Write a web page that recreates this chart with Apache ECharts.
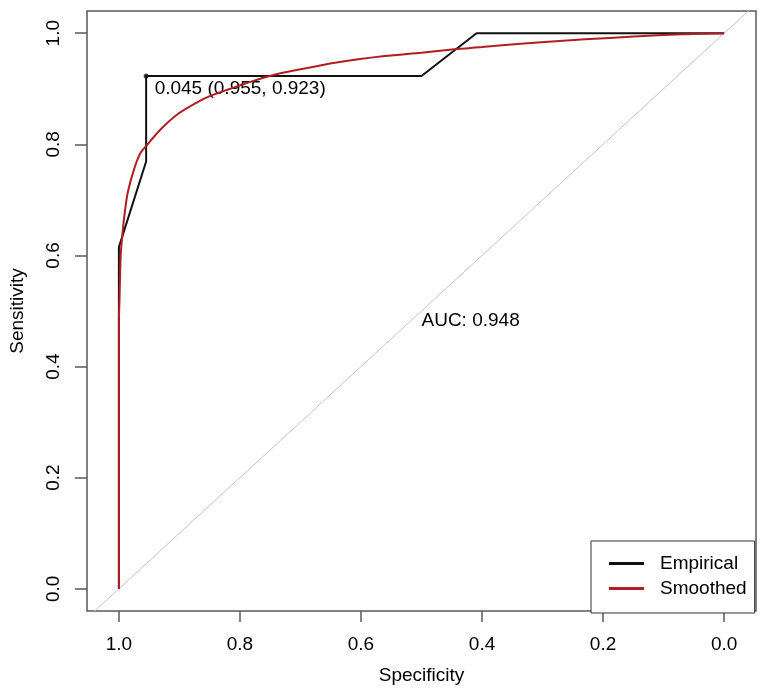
<!DOCTYPE html>
<html>
<head>
<meta charset="utf-8">
<script src="https://cdn.jsdelivr.net/npm/echarts@6/dist/echarts.min.js"></script>
<style>
  html, body { margin: 0; padding: 0; background: #fff; }
  #main { width: 765px; height: 698px; }
</style>
</head>
<body>
<div id="main"></div>
<script>
var chartDom = document.getElementById('main');
var myChart = echarts.init(chartDom);
var option;

// Tick positions shared by both axes
const axisTicks = [0, 0.2, 0.4, 0.6, 0.8, 1.0];

// Empirical ROC curve (specificity, sensitivity)
const empiricalSpec = [1.0, 1.0, 0.955, 0.955, 0.5, 0.409, 0.0];
const empiricalSens = [0.0, 0.615, 0.769, 0.923, 0.923, 1.0, 1.0];

// Smoothed ROC curve
const smoothSpec = [1.0, 1.0, 0.999, 0.997, 0.994, 0.990, 0.985, 0.975, 0.965, 0.955,
  0.930, 0.902, 0.870, 0.847, 0.808, 0.792, 0.748, 0.700, 0.643, 0.561,
  0.500, 0.446, 0.400, 0.314, 0.230, 0.149, 0.070, 0.0];
const smoothSens = [0.0, 0.480, 0.520, 0.600, 0.640, 0.680, 0.715, 0.755, 0.783, 0.797,
  0.828, 0.855, 0.876, 0.888, 0.903, 0.909, 0.924, 0.935, 0.947, 0.959,
  0.965, 0.971, 0.975, 0.983, 0.989, 0.994, 0.998, 1.0];

// Chance diagonal
const chanceSpec = [1.2, -0.2];
const chanceSens = [-0.2, 1.2];

// Best threshold and AUC
const bestThreshold = 0.045;
const bestSpec = 0.955;
const bestSens = 0.923;
const aucValue = 0.948;
const aucPos = [0.5, 0.5];

const font = "'Liberation Sans', Arial, sans-serif";
const fontSize = 19;
const red = '#b21d24';

function pairs(xs, ys) {
  return xs.map(function (x, i) { return [x, ys[i]]; });
}

option = {
  animation: false,
  backgroundColor: '#fff',
  textStyle: { fontFamily: font, color: '#000' },
  grid: {
    left: 85, right: 9, top: 11, bottom: 87,
    show: true,
    borderColor: '#5a5a5a',
    borderWidth: 1.5,
    backgroundColor: 'transparent'
  },
  legend: {
    left: 591,
    top: 541,
    orient: 'vertical',
    data: ['Empirical', 'Smoothed'],
    icon: 'rect',
    itemWidth: 35,
    itemHeight: 3,
    itemGap: 6,
    padding: [13, 8, 15, 18],
    borderColor: '#333',
    borderWidth: 1,
    backgroundColor: '#fff',
    textStyle: { fontFamily: font, fontSize: fontSize, color: '#000', padding: [0, 0, 0, 11], lineHeight: 18 }
  },
  xAxis: {
    type: 'value',
    inverse: true,
    min: -0.0527,
    max: 1.0527,
    name: 'Specificity',
    nameLocation: 'middle',
    nameGap: 55,
    nameTextStyle: { fontFamily: font, fontSize: fontSize, color: '#000' },
    axisLine: { show: false, onZero: false },
    splitLine: { show: false },
    axisTick: { show: true, inside: false, length: 11, customValues: axisTicks, lineStyle: { color: '#5a5a5a', width: 1.5 } },
    axisLabel: {
      customValues: axisTicks,
      margin: 24,
      fontFamily: font, fontSize: fontSize, color: '#000',
      formatter: function (v) { return v.toFixed(1); }
    }
  },
  yAxis: {
    type: 'value',
    min: -0.04,
    max: 1.04,
    name: 'Sensitivity',
    nameLocation: 'middle',
    nameGap: 60,
    nameTextStyle: { fontFamily: font, fontSize: fontSize, color: '#000' },
    axisLine: { show: false, onZero: false },
    splitLine: { show: false },
    axisTick: { show: true, inside: false, length: 12, customValues: axisTicks, lineStyle: { color: '#5a5a5a', width: 1.5 } },
    axisLabel: {
      customValues: axisTicks,
      rotate: 90,
      margin: 24,
      fontFamily: font, fontSize: fontSize, color: '#000',
      formatter: function (v) { return v.toFixed(1); }
    }
  },
  series: [
    {
      name: 'chance',
      type: 'line',
      data: pairs(chanceSpec, chanceSens),
      showSymbol: false,
      symbol: 'none',
      clip: true,
      silent: true,
      lineStyle: { color: '#c4c4c4', width: 1 }
    },
    {
      name: 'Empirical',
      type: 'line',
      data: pairs(empiricalSpec, empiricalSens),
      symbol: 'none',
      itemStyle: { color: '#111' },
      lineStyle: { color: '#111', width: 2 }
    },
    {
      name: 'Smoothed',
      type: 'line',
      data: pairs(smoothSpec, smoothSens),
      symbol: 'none',
      smooth: 0.3,
      itemStyle: { color: red },
      lineStyle: { color: red, width: 2 }
    },
    {
      name: 'best',
      type: 'scatter',
      data: [[bestSpec, bestSens]],
      symbolSize: 5,
      itemStyle: { color: '#111' },
      silent: true,
      label: {
        show: true,
        position: 'right',
        distance: 6,
        offset: [0, 13],
        textBorderWidth: 0,
        opacity: 1,
        fontFamily: font, fontSize: fontSize, color: '#000',
        formatter: function () {
          return bestThreshold.toFixed(3) + ' (' + bestSpec.toFixed(3) + ', ' + bestSens.toFixed(3) + ')';
        }
      }
    },
    {
      name: 'auc',
      type: 'scatter',
      data: [aucPos],
      symbolSize: 0,
      silent: true,
      label: {
        show: true,
        position: [0, 0],
        align: 'left',
        verticalAlign: 'top',
        textBorderWidth: 0,
        opacity: 1,
        fontFamily: font, fontSize: fontSize, color: '#000',
        formatter: function () { return 'AUC: ' + aucValue.toFixed(3); }
      }
    }
  ]
};

option && myChart.setOption(option);
</script>
</body>
</html>
